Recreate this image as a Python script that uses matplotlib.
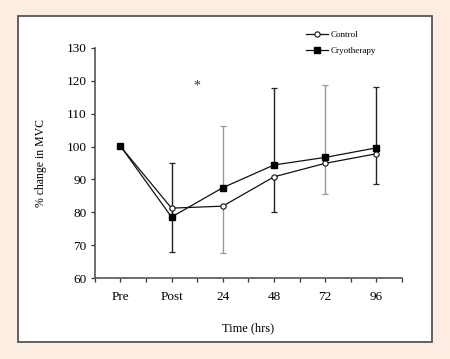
import matplotlib
matplotlib.use("Agg")
import matplotlib.pyplot as plt
from matplotlib.lines import Line2D
from matplotlib.patches import Rectangle

# values
times = ["Pre", "Post", "24", "48", "72", "96"]
control = [100.1, 81.3, 81.9, 90.8, 94.9, 97.8]
cryo = [100.2, 78.6, 87.5, 94.4, 96.7, 99.6]
bar_top = [None, 95.0, 106.1, 117.9, 118.7, 118.0]   # cryotherapy + SD
bar_bottom = [None, 68.0, 67.8, 80.1, 85.6, 88.5]    # control - SD
star_pos = (1.5, 118.5)

plt.rcParams["font.family"] = ["Liberation Serif", "DejaVu Serif"]

fig = plt.figure(figsize=(4.5, 3.59), dpi=100)
fig.patch.set_facecolor("#fdece2")

# white panel with grey frame, behind the axes
fig.add_artist(Rectangle((18 / 450, 1 - 342 / 359), 414 / 450, 326 / 359,
                         transform=fig.transFigure, facecolor="white",
                         edgecolor="#555555", lw=1.3, zorder=-1))

ax = fig.add_axes([94.7 / 450, 1 - 278.3 / 359, 307.3 / 450, 230.6 / 359])
ax.set_facecolor("none")

x = list(range(len(times)))

# error bars, drawn one per time point (alternating shade like the original)
bar_colors = ["#222222", "#999999"]
for i in x:
    if bar_top[i] is None:
        continue
    c = bar_colors[(i + 1) % 2]
    ax.errorbar([i], [cryo[i]], yerr=[[0], [bar_top[i] - cryo[i]]], fmt="none",
                ecolor=c, elinewidth=1.0, capsize=2.5, capthick=0.9, zorder=1)
    ax.errorbar([i], [control[i]], yerr=[[control[i] - bar_bottom[i]], [0]], fmt="none",
                ecolor=c, elinewidth=1.0, capsize=2.5, capthick=0.9, zorder=1)

ax.plot(x, control, "-o", color="#111111", lw=0.9, ms=3.8, mfc="white",
        mec="#111111", mew=0.8, zorder=3)
ax.plot(x, cryo, "-s", color="#111111", lw=0.9, ms=4.8, mfc="black",
        mec="black", zorder=4)

ax.text(star_pos[0], star_pos[1], "*", ha="center", va="center", fontsize=10,
        color="#333333")

ax.set_xlim(-0.5, 5.5)
ax.set_ylim(60, 130)
ax.set_xticks([v - 0.5 for v in x] + [5.5], minor=True)
ax.set_xticks(x)
ax.set_xticklabels(times)
ax.set_yticks(range(60, 131, 10))

for s in ["top", "right"]:
    ax.spines[s].set_visible(False)
for s in ["left", "bottom"]:
    ax.spines[s].set_color("#555555")
    ax.spines[s].set_linewidth(1.2)

ax.tick_params(axis="x", which="both", direction="out", length=3, width=0.9,
               color="#333333", labelsize=9.5, pad=6)
ax.tick_params(axis="y", direction="out", length=3, width=0.9,
               color="#333333", labelsize=9.5, pad=3)

ax.set_xlabel("Time (hrs)", fontsize=9)
ax.xaxis.set_label_coords(0.5, -0.19)
ax.set_ylabel("% change in MVC", fontsize=8.5)
ax.yaxis.set_label_coords(-0.155, 0.5)

handles = [
    Line2D([0], [0], color="#111111", lw=0.9, marker="o", ms=3.8, mfc="white",
           mec="#111111", mew=0.8, label="Control"),
    Line2D([0], [0], color="#111111", lw=0.9, marker="s", ms=4.8, mfc="black",
           mec="black", label="Cryotherapy"),
]
fig.legend(handles=handles, loc="upper left", bbox_to_anchor=(306 / 450, 1 - 31 / 359),
           frameon=False, fontsize=6.5, handlelength=2.4, handletextpad=0.3,
           labelspacing=0.85, borderpad=0, borderaxespad=0)

fig.savefig("out.png", dpi=100, facecolor=fig.get_facecolor())
